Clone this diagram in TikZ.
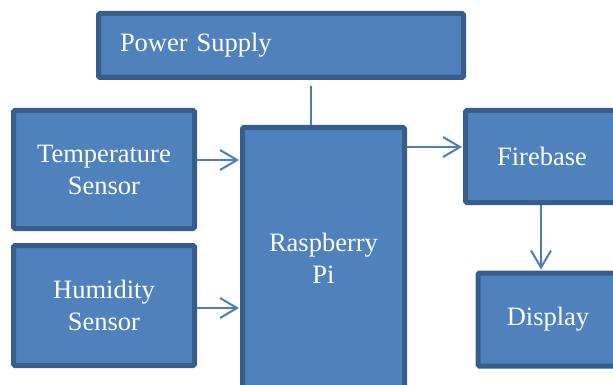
\documentclass[tikz,border=0pt]{standalone}
\usepackage{fontspec}
\setmainfont{Liberation Serif}
\usetikzlibrary{arrows.meta, positioning}
\definecolor{boxfill}{HTML}{4F81BD}
\definecolor{boxline}{HTML}{385D8A}
\definecolor{wirecol}{HTML}{4A7EBB}

\begin{document}
\begin{tikzpicture}[
    x=1pt, y=1pt,
    block/.style={draw=boxline, fill=boxfill, line width=5pt, rounded corners=1.5pt,
                  text=white, font=\fontsize{26.5}{32}\selectfont, align=center,
                  inner sep=0pt},
    wire/.style={draw=wirecol, line width=2pt},
    flow/.style={wire, -{Straight Barb[length=17pt, width=20pt, line width=2pt]}, shorten >=1pt}
]

   % page frame
   \useasboundingbox (0,0) rectangle (613,-385);

   % blocks
   \node[block, minimum height=64pt, text width=322pt, inner xsep=21.5pt, align=left]
        (power) at (281,-45.5) {Power Supply};
   \node[block, minimum width=181pt, minimum height=118pt] (temp)  at (104,-169.5) {Temperature\\Sensor};
   \node[block, minimum width=181pt, minimum height=120pt] (humid) at (104,-305.5) {Humidity\\Sensor};
   \node[block, minimum width=162pt, minimum height=262pt] (pi)    at (323.5,-258.5) {Raspberry\\Pi};
   \node[block, minimum width=153pt, minimum height=92pt]  (fire)  at (542,-156.5) {Firebase};
   \node[block, minimum width=140pt, minimum height=93pt]  (disp)  at (548,-319.5) {Display};

   % connector end points
   \coordinate (tempout)  at ([yshift=9.5pt]temp.east);
   \coordinate (humidout) at ([yshift=-2.5pt]humid.east);
   \coordinate (firein)   at ([yshift=9.5pt]fire.west);
   \coordinate (fireout)  at ([xshift=-1pt]fire.south);
   \coordinate (piup)     at ([xshift=-12.5pt]pi.north);

   % supply line into the Pi
   \draw[wire, shorten <=6pt] (piup |- power.south) -- (piup);

   % sensor inputs
   \draw[flow] (tempout) -- (pi.west |- tempout);
   \draw[flow] (humidout) -- (pi.west |- humidout);

   % outputs
   \draw[flow] (pi.east |- firein) -- (firein);
   \draw[flow] (fireout) -- (fireout |- disp.north);

\end{tikzpicture}
\end{document}
